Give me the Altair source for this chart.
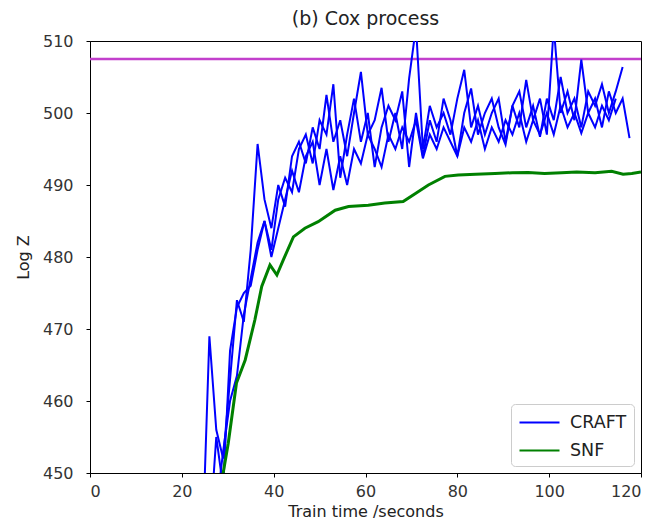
import altair as alt
import pandas as pd

# shared time grid (seconds)
times = [24.5, 26, 27.5, 29, 30.5, 32, 33.5, 35, 36.5, 38, 39.5, 41, 42.5, 44, 45.5,
         47, 48.5, 50, 51.5, 53, 54.5, 56, 57.5, 59, 60.5, 62, 63.5, 65, 66.5, 68,
         69.5, 71, 72.5, 74, 75.5, 77, 78.5, 80, 81.5, 83, 84.5, 86, 87.5, 89, 90.5,
         92, 93.5, 95, 96.5, 98, 99.5, 101, 102.5, 104, 105.5, 107, 108.5, 110, 111.5,
         113, 114.5, 116, 117.5]

craft_run1 = [440, 469, 456, 452, 463, 474, 471, 481, 495.7, 488, 484, 490, 487, 494, 496,
              493, 498, 495, 502.5, 496, 499, 494, 500, 505.7, 497, 499, 503.5, 496, 500, 495,
              504.8, 512, 495, 501, 498, 500, 497, 502, 506, 498, 501, 497, 500, 502, 496,
              501, 498, 504.6, 499, 502, 497, 512, 500, 503, 499, 507.4, 500, 502, 498,
              503, 500, 502, 496.5]
craft_run2 = [436, 441, 455, 448, 467, 473, 475, 476, 481, 485, 481, 488, 491, 489, 495,
              497, 493, 499, 497, 504, 491, 497, 502, 496, 500, 492.5, 498, 501, 499, 503,
              492.5, 500, 494, 499, 496, 502, 499, 494, 500, 503.4, 497, 500, 502, 498, 495.6,
              501, 503, 498, 501, 496.7, 502, 499, 505, 500, 502, 498, 503, 501, 504,
              500, 503, 506.4, None]
craft_run3 = [430, 437, 445, 453, 460, 463.5, 472, 477, 482, 485, 480, 484, 488, 492, 489,
              494, 496, 490, 495, 489.3, 494, 490, 495, 493, 497, 495, 492.5, 497, 495, 498,
              496, 499, 493.7, 497, 495, 498, 496, 494, 498, 496, 499, 495, 498, 496, 499,
              497, 500, 496, 499, 497, 500, 497, 501, 498, 500, 497.2, 500, 498, 501,
              499, 502, None, None]

snf_t = [28.0, 29.0, 30.1, 31.9, 33.8, 35.9, 37.4, 39.2, 40.7, 42.1, 44.3, 46.8, 49.7,
         53.4, 56.3, 60.6, 64.2, 68.2, 70.8, 73.7, 77.3, 80.2, 84.0, 88.2, 92.0, 95.4,
         99.0, 102.7, 106.0, 110.0, 113.6, 116.1, 118.0, 120.0]
snf_v = [445.0, 450.0, 454.1, 462.5, 465.7, 471.25, 475.9, 478.9, 477.5, 479.6, 482.8,
         484.0, 484.9, 486.5, 487.0, 487.2, 487.5, 487.7, 488.8, 490.0, 491.2, 491.4, 491.5,
         491.6, 491.7, 491.75, 491.6, 491.7, 491.8, 491.7, 491.9, 491.5, 491.6, 491.8]

reference_logz = 507.5

rows = []
for name, vals in [("craft1", craft_run1), ("craft2", craft_run2), ("craft3", craft_run3)]:
    for t, v in zip(times, vals):
        if v is not None:
            rows.append({"t": t, "logz": v, "run": name, "method": "CRAFT"})
for t, v in zip(snf_t, snf_v):
    rows.append({"t": t, "logz": v, "run": "snf1", "method": "SNF"})
df = pd.DataFrame(rows)

color = alt.Color("method:N",
                  scale=alt.Scale(domain=["CRAFT", "SNF"], range=["#0000ff", "#008000"]),
                  legend=alt.Legend(title=None, orient="bottom-right",
                                    symbolType="M-2,0L2,0", symbolSize=400,
                                    symbolStrokeWidth=2.2, symbolOffset=10,
                                    labelFontSize=17.5, labelColor="#222",
                                    strokeColor="#cccccc", fillColor="white", padding=7,
                                    cornerRadius=4, rowPadding=8, offset=7,
                                    labelOffset=19))

x = alt.X("t:Q", scale=alt.Scale(domain=[0, 120], nice=False),
          axis=alt.Axis(values=[0, 20, 40, 60, 80, 100, 120], title="Train time /seconds",
                        labelPadding=6, titlePadding=4))
y = alt.Y("logz:Q", scale=alt.Scale(domain=[450, 510], nice=False, zero=False),
          axis=alt.Axis(values=[450, 460, 470, 480, 490, 500, 510], title="Log Z",
                        labelPadding=13, titlePadding=11))

lines = alt.Chart(df).mark_line(clip=True).encode(
    x=x, y=y, color=color, detail="run:N",
    strokeWidth=alt.condition(alt.datum.method == "SNF", alt.value(3), alt.value(2)),
)

ref = alt.Chart(pd.DataFrame({"v": [reference_logz]})).mark_rule(
    color="#c23fcc", strokeWidth=2.5, clip=True).encode(y=alt.Y("v:Q"))

chart = alt.layer(ref, lines).properties(
    width=551, height=432,
    title=alt.Title("(b) Cox process", fontSize=19, fontWeight="normal", color="#222",
                    font="DejaVu Sans", offset=4),
    autosize=alt.AutoSizeParams(type="none"),
    padding={"left": 82, "top": 33, "right": 10, "bottom": 47},
).configure(font="DejaVu Sans").configure_view(
    stroke="black", strokeWidth=1
).configure_axis(
    grid=False, domainColor="black", tickColor="black", tickSize=4,
    labelFontSize=16, labelColor="#333", titleFontSize=16, titleColor="#222",
    labelFont="DejaVu Sans", titleFont="DejaVu Sans", titleFontWeight="normal",
).configure_legend(labelFont="DejaVu Sans")

chart.save("out.html", embed_options={"renderer": "svg", "actions": False})
